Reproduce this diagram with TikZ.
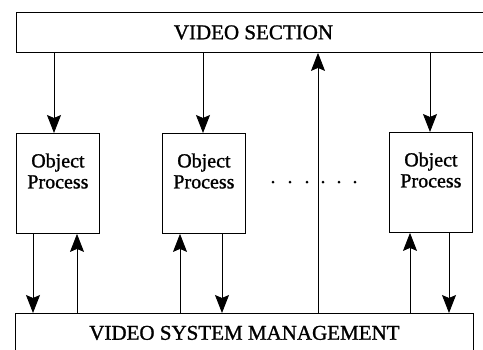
\documentclass[tikz,border=0pt]{standalone}
\usepackage{fontspec}
\setmainfont{Liberation Serif}[BoldFont={Liberation Serif},BoldFeatures={FakeBold=1.2}]
\usetikzlibrary{arrows.meta}
\begin{document}
\begin{tikzpicture}[x=1pt,y=-1pt,
  box/.style={draw,line width=0.9pt,rectangle,inner sep=0pt},
  objbox/.style={box,minimum width=83pt,minimum height=100pt,align=center,
     font=\fontsize{20}{21}\selectfont\bfseries},
  hdr/.style={box,anchor=north west,font=\fontsize{21}{24}\selectfont\bfseries},
  arr/.style={line width=0.8pt,-{Stealth[length=18pt,width=14pt,inset=3pt]}},
  dot/.style={circle,fill,inner sep=0pt,minimum size=3pt}]
\useasboundingbox (0,0) rectangle (483,349);
\node[hdr,minimum width=474pt,minimum height=40pt] (top) at (16,12) {VIDEO SECTION};
\node[hdr,minimum width=458pt,minimum height=39pt] (bot) at (15,313) {VIDEO SYSTEM MANAGEMENT};
\node[objbox,anchor=north west] (o1) at (16,133) {Object\\Process\\[4pt]};
\node[objbox,anchor=north west] (o2) at (162,133) {Object\\Process\\[4pt]};
\node[objbox,anchor=north west] (o3) at (389,132) {Object\\Process\\[4pt]};
% top arrows
\draw[arr] (top.south -| 54,0) -- (o1.north -| 54,0);
\draw[arr] (top.south -| 203,0) -- (o2.north -| 203,0);
\draw[arr] (bot.north -| 318,0) -- (top.south -| 318,0);
\draw[arr] (top.south -| 430,0) -- (o3.north -| 430,0);
% bottom arrows
\draw[arr] (o1.south -| 33,0) -- (bot.north -| 33,0);
\draw[arr] (bot.north -| 77,0) -- (o1.south -| 77,0);
\draw[arr] (bot.north -| 180,0) -- (o2.south -| 180,0);
\draw[arr] (o2.south -| 222,0) -- (bot.north -| 222,0);
\draw[arr] (bot.north -| 410,0) -- (o3.south -| 410,0);
\draw[arr] (o3.south -| 449,0) -- (bot.north -| 449,0);
% dots
\foreach \i/\x in {1/273,2/290,3/307,4/323,5/339,6/355}
  \node[dot] (d\i) at (\x,182) {};
\end{tikzpicture}
\end{document}
